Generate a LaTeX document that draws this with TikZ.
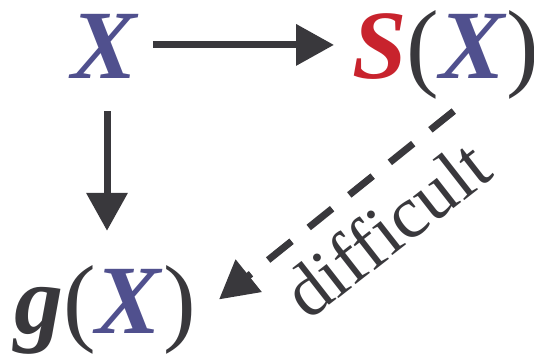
\documentclass[tikz,border=0pt]{standalone}
\usepackage{fontspec}
\setmainfont{Liberation Serif}
\usetikzlibrary{arrows.meta}
\definecolor{varblue}{RGB}{80,80,142}
\definecolor{mapred}{RGB}{200,35,45}
\definecolor{ink}{RGB}{57,56,60}
\tikzset{
  big/.style={inner sep=0pt, font=\fontsize{98}{98}\selectfont, text=ink},
  arr/.style={ink, line width=7pt, -{Triangle[length=38pt,width=40pt]}},
  dasharr/.style={arr, dash pattern=on 30pt off 22pt},
}
\newcommand{\vX}{\textcolor{varblue}{\textbf{\textit{X}}}}
\begin{document}
\begin{tikzpicture}[x=1pt,y=1pt]
\useasboundingbox (0,0) rectangle (534,353);
\node[big,anchor=base] (X) at (105,274) {\vX};
\node[big,anchor=base west] (SX) at (352,274) {\textcolor{mapred}{\textbf{\textit{S}}}(\vX)};
\node[big,anchor=base west] (gX) at (14,20) {\textbf{\textit{g}}(\vX)};
\draw[arr, shorten <=14pt, shorten >=18pt] ([yshift=2pt]X.east) -- ([yshift=2pt]X.east -| SX.west);
\draw[arr, shorten <=32pt, shorten >=34pt] ([xshift=2pt]X.south) -- ([xshift=2pt]X.south |- gX.north);
\draw[dasharr] ([shift={(8,-11)}]SX.south) -- ([shift={(23,10)}]gX.east);
\node[anchor=base, rotate=38, inner sep=0pt, text=ink,
  font=\fontsize{74}{74}\selectfont\addfontfeature{Ligatures=NoCommon}] (hard) at (402,104) {difficult};
\end{tikzpicture}
\end{document}
